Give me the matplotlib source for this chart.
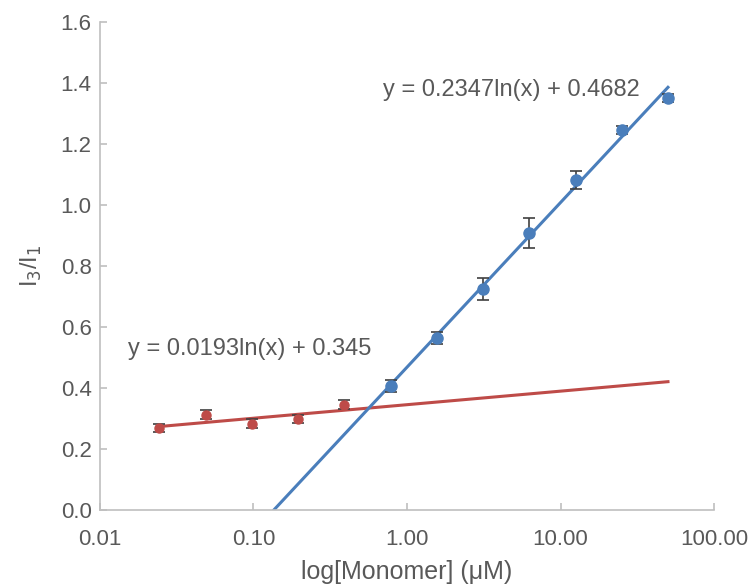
import numpy as np
import matplotlib
matplotlib.use("Agg")
import matplotlib.pyplot as plt

plt.rcParams["font.family"] = ["Liberation Sans", "DejaVu Sans"]

# low-concentration series (red)
red_x = [0.0244, 0.0488, 0.0977, 0.195, 0.391]
red_y = [0.270, 0.312, 0.282, 0.297, 0.345]
red_err = [0.013, 0.015, 0.015, 0.013, 0.015]

# high-concentration series (blue)
blue_x = [0.781, 1.5625, 3.125, 6.25, 12.5, 25.0, 50.0]
blue_y = [0.405, 0.565, 0.725, 0.908, 1.082, 1.247, 1.352]
blue_err = [0.020, 0.020, 0.035, 0.048, 0.030, 0.013, 0.013]

# trendline coefficients y = a ln(x) + b
red_fit = (0.0193, 0.345)
blue_fit = (0.2347, 0.4682)

BLUE = "#4A7EBB"
RED = "#BE4B48"
TXT = "#595959"
GRID = "#BFBFBF"

fig = plt.figure(figsize=(7.51, 5.84), dpi=100)
ax = fig.add_axes([0.133, 0.127, 0.818, 0.835])

# trendlines
xr = np.geomspace(red_x[0], blue_x[-1], 200)
ax.plot(xr, red_fit[0] * np.log(xr) + red_fit[1], color=RED, lw=2.2, zorder=2)
x0 = np.exp(-blue_fit[1] / blue_fit[0])
xb = np.geomspace(x0, blue_x[-1], 200)
ax.plot(xb, blue_fit[0] * np.log(xb) + blue_fit[1], color=BLUE, lw=2.2, zorder=2)

ax.errorbar(red_x, red_y, yerr=red_err, fmt="o", color=RED, ms=6.5,
            ecolor="#404040", elinewidth=1.2, capsize=4, capthick=1.2, zorder=3)
ax.errorbar(blue_x, blue_y, yerr=blue_err, fmt="o", color=BLUE, ms=8,
            ecolor="#404040", elinewidth=1.2, capsize=4, capthick=1.2, zorder=3)

ax.text(0.0152, 0.527, "y = 0.0193ln(x) + 0.345", fontsize=17, color=TXT, va="center")
ax.text(0.698, 1.377, "y = 0.2347ln(x) + 0.4682", fontsize=17, color=TXT, va="center")

ax.set_xscale("log")
ax.set_xlim(0.01, 100)
ax.set_ylim(0, 1.6)
ax.set_xticks([0.01, 0.1, 1, 10, 100])
ax.set_xticklabels(["0.01", "0.10", "1.00", "10.00", "100.00"])
ax.minorticks_off()
ax.set_yticks(np.arange(0, 1.61, 0.2))
ax.set_yticklabels([f"{v:.1f}" for v in np.arange(0, 1.61, 0.2)])

for s in ["top", "right"]:
    ax.spines[s].set_visible(False)
for s in ["left", "bottom"]:
    ax.spines[s].set_color(GRID)
    ax.spines[s].set_linewidth(1.2)
ax.tick_params(axis="both", direction="in", length=5, color=GRID, width=1.2,
               labelsize=16, labelcolor=TXT)
ax.tick_params(axis="y", pad=6)
ax.tick_params(axis="x", pad=14)

ax.set_xlabel("log[Monomer] (μM)", fontsize=18, color=TXT, labelpad=7)
ax.set_ylabel("I$_3$/I$_1$", fontsize=17, color=TXT, labelpad=12)

fig.savefig("out.png", dpi=100)
